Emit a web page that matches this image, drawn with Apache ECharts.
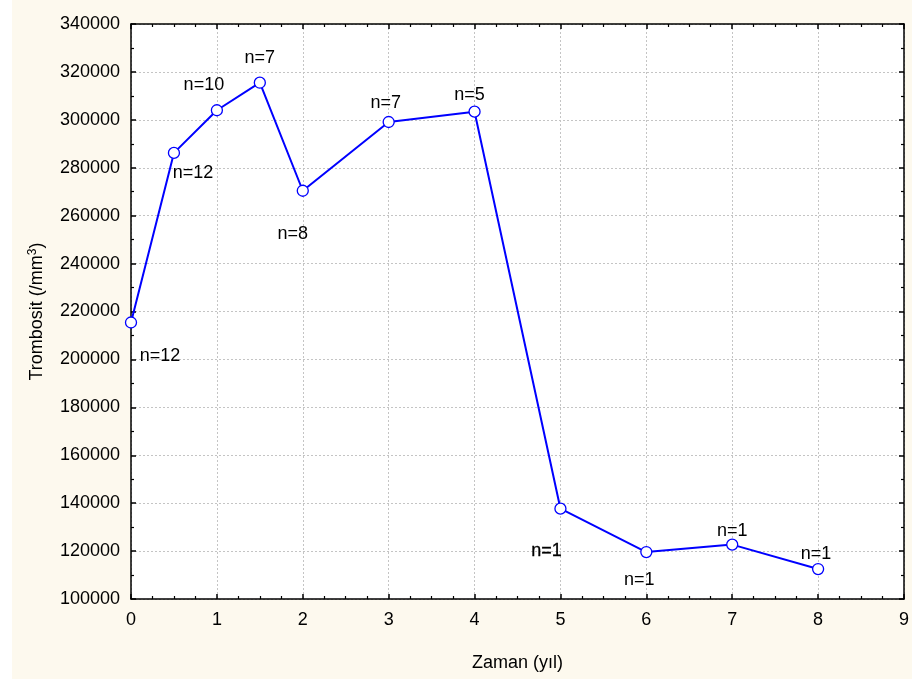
<!DOCTYPE html>
<html>
<head>
<meta charset="utf-8">
<script src="https://cdn.jsdelivr.net/npm/echarts@6/dist/echarts.min.js"></script>
<style>
  html, body { margin: 0; padding: 0; background: #ffffff; }
  #chart { width: 912px; height: 679px; }
</style>
</head>
<body>
<div id="chart"></div>
<script>
// Follow-up time in years
const years = [0, 0.5, 1, 1.5, 2, 3, 4, 5, 6, 7, 8];
// Mean platelet count (/mm3) at each time point
const platelets = [215400, 286200, 304000, 315500, 270400, 299100, 303400, 137700, 119600, 122700, 112500];
// Number of patients at each time point
const sampleSizes = [12, 12, 10, 7, 8, 7, 5, 1, 1, 1, 1];
// Axis tick settings
const yTicks = { min: 100000, max: 340000, step: 20000 };
const xTicks = { min: 0, max: 9, step: 1 };

const FONT = '"Liberation Sans", Arial, sans-serif';
const FS = 18;

// Where each "n=" annotation sits relative to its marker
const labelOffsets = [
  [29, 34], [19, 20], [-13, -25], [0, -25], [-10, 43], [-3, -19],
  [-5, -17], [-14, 42], [-7, 28], [0, -14], [-2, -15]
];

const seriesData = years.map((x, i) => ({
  value: [x, platelets[i]],
  label: {
    show: true,
    formatter: 'n=' + sampleSizes[i],
    position: 'inside',
    align: 'center',
    verticalAlign: 'middle',
    offset: labelOffsets[i],
    color: '#000',
    fontFamily: FONT,
    fontSize: FS,
    textBorderColor: i === 7 ? '#000' : 'transparent',
    textBorderWidth: i === 7 ? 0.3 : 0
  }
}));

const gridLine = { show: true, lineStyle: { color: '#c4c4c4', width: 1, type: [2, 2] } };
const plainNumber = v => String(v);

const chart = echarts.init(document.getElementById('chart'), null, { renderer: 'canvas' });
chart.setOption({
  animation: false,
  backgroundColor: '#ffffff',
  graphic: [{
    type: 'rect', z: -10, silent: true,
    shape: { x: 12, y: 0, width: 900, height: 679 },
    style: { fill: '#fdf9ee' }
  }],
  grid: {
    left: 131, right: 7, top: 24, bottom: 80,
    show: true, backgroundColor: '#ffffff', borderWidth: 0
  },
  xAxis: [{
    type: 'value',
    min: xTicks.min, max: xTicks.max, interval: xTicks.step,
    name: 'Zaman (yıl)',
    nameLocation: 'middle',
    nameGap: 55,
    nameTextStyle: { fontFamily: FONT, fontSize: FS, color: '#000' },
    axisLine: { show: true, onZero: false, lineStyle: { color: '#000', width: 1.5 } },
    axisTick: { show: true, inside: true, length: 5, lineStyle: { color: '#000', width: 1.5 } },
    minorTick: { show: true, splitNumber: 4, length: 3, lineStyle: { color: '#000', width: 1.2 } },
    axisLabel: { margin: 12, fontFamily: FONT, fontSize: FS, color: '#000', formatter: plainNumber },
    splitLine: gridLine
  }, {
    type: 'value', position: 'top',
    min: xTicks.min, max: xTicks.max, interval: xTicks.step,
    axisLine: { show: true, onZero: false, lineStyle: { color: '#000', width: 1.5 } },
    axisTick: { show: true, inside: true, length: 5, lineStyle: { color: '#000', width: 1.5 } },
    minorTick: { show: true, splitNumber: 4, length: 3, lineStyle: { color: '#000', width: 1.2 } },
    axisLabel: { show: false },
    splitLine: { show: false }
  }],
  yAxis: [{
    type: 'value',
    min: yTicks.min, max: yTicks.max, interval: yTicks.step,
    name: '{n|Trombosit (/mm}{s|3}{n|)}',
    nameLocation: 'middle',
    nameGap: 84,
    nameRotate: 90,
    nameTextStyle: {
      rich: {
        n: { fontFamily: FONT, fontSize: FS, color: '#000' },
        s: { fontFamily: FONT, fontSize: 12, color: '#000', verticalAlign: 'top', padding: [0, 0, 8, 0] }
      }
    },
    axisLine: { show: true, onZero: false, lineStyle: { color: '#000', width: 1.5 } },
    axisTick: { show: true, inside: true, length: 5, lineStyle: { color: '#000', width: 1.5 } },
    minorTick: { show: true, splitNumber: 2, length: 3, lineStyle: { color: '#000', width: 1.2 } },
    axisLabel: { margin: 11, fontFamily: FONT, fontSize: FS, color: '#000', formatter: plainNumber },
    splitLine: gridLine
  }, {
    type: 'value', position: 'right',
    min: yTicks.min, max: yTicks.max, interval: yTicks.step,
    axisLine: { show: true, onZero: false, lineStyle: { color: '#000', width: 1.5 } },
    axisTick: { show: true, inside: true, length: 5, lineStyle: { color: '#000', width: 1.5 } },
    minorTick: { show: true, splitNumber: 2, length: 3, lineStyle: { color: '#000', width: 1.2 } },
    axisLabel: { show: false },
    splitLine: { show: false }
  }],
  series: [{
    type: 'line',
    data: seriesData,
    lineStyle: { color: '#0000ff', width: 2 },
    symbol: 'circle',
    symbolSize: 11,
    showAllSymbol: true,
    itemStyle: { color: '#ffffff', borderColor: '#0000ff', borderWidth: 1.3 },
    emphasis: { disabled: true },
    clip: false,
    z: 5
  }]
});
</script>
</body>
</html>
